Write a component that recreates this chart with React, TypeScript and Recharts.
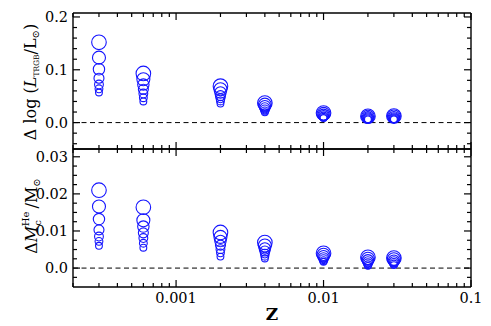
import React from "react";
import { ScatterChart, Scatter, XAxis, YAxis, ReferenceLine } from "recharts";

// metallicities of the model grids
const zValues = [0.0003, 0.0006, 0.002, 0.004, 0.01, 0.02, 0.03];

// ring radius per mass step (largest first)
const radii = [7.3, 6.5, 5.7, 5.0, 4.4, 3.9, 3.4];

// Δ log(L_TRGB/L_sun), one row per Z
const dLogL = [
  [0.152, 0.123, 0.101, 0.084, 0.072, 0.064, 0.057],
  [0.093, 0.082, 0.072, 0.063, 0.055, 0.047, 0.04],
  [0.069, 0.063, 0.057, 0.051, 0.046, 0.041, 0.036],
  [0.037, 0.034, 0.031, 0.028, 0.025, 0.022, 0.0195],
  [0.0182, 0.0165, 0.0148, 0.0131, 0.0115, 0.01, 0.0087],
  [0.012, 0.011, 0.01, 0.009, 0.008, 0.007, 0.006],
  [0.0125, 0.0114, 0.0103, 0.0092, 0.0082, 0.0072, 0.0062],
];

// Δ M_c^He / M_sun, one row per Z
const dMcHe = [
  [0.021, 0.0166, 0.0132, 0.0103, 0.0085, 0.0072, 0.006],
  [0.0164, 0.0129, 0.0112, 0.0095, 0.0081, 0.0067, 0.0055],
  [0.0096, 0.0084, 0.0073, 0.0062, 0.0051, 0.0041, 0.0031],
  [0.0069, 0.0061, 0.0053, 0.0046, 0.0039, 0.0032, 0.0026],
  [0.004, 0.0036, 0.0032, 0.0028, 0.0024, 0.002, 0.0017],
  [0.0029, 0.0025, 0.0021, 0.0017, 0.0013, 0.0009, 0.0006],
  [0.0027, 0.0024, 0.002, 0.0017, 0.0014, 0.0011, 0.0008],
];

const xTicks = [
  0.0002, 0.0003, 0.0004, 0.0005, 0.0006, 0.0007, 0.0008, 0.0009, 0.001,
  0.002, 0.003, 0.004, 0.005, 0.006, 0.007, 0.008, 0.009, 0.01,
  0.02, 0.03, 0.04, 0.05, 0.06, 0.07, 0.08, 0.09, 0.1,
];
const xMajor = [0.001, 0.01, 0.1];
const xLabels: Record<string, string> = { "0.001": "0.001", "0.01": "0.01", "0.1": "0.1" };

const topTicks = [-0.04, -0.02, 0, 0.02, 0.04, 0.06, 0.08, 0.1, 0.12, 0.14, 0.16, 0.18, 0.2];
const topMajor = [0, 0.1, 0.2];
const topLabels: Record<string, string> = { "0": "0.0", "0.1": "0.1", "0.2": "0.2" };

const botTicks = [
  -0.0025, 0, 0.0025, 0.005, 0.0075, 0.01, 0.0125, 0.015, 0.0175, 0.02, 0.0225,
  0.025, 0.0275, 0.03,
];
const botMajor = [0, 0.01, 0.02, 0.03];
const botLabels: Record<string, string> = { "0": "0.0", "0.01": "0.01", "0.02": "0.02", "0.03": "0.03" };

const W = 491;
const H = 326;
const LEFT = 73;
const RIGHT = 471;
const TOP = 13;
const MID = 149;
const BOTTOM = 287;

const FONT = "DejaVu Serif";
const BLUE = "#1414ff";

const toPoints = (rows: number[][]) =>
  rows.flatMap((row, i) => row.map((v, k) => ({ z: zValues[i], v, k })));

const topData = toPoints(dLogL);
const botData = toPoints(dMcHe);

const Ring = (props: any) => {
  const { cx, cy, payload } = props;
  return <circle cx={cx} cy={cy} r={radii[payload.k]} fill="none" stroke={BLUE} strokeWidth={1.1} />;
};

const isMajor = (list: number[], v: number) => list.some((m) => Math.abs(m - v) < 1e-9);

const makeTick =
  (side: "bottom" | "top" | "left" | "right", majors: number[], labels?: Record<string, string>) =>
  (props: any) => {
    const { x, y, payload } = props;
    const v = payload.value;
    const major = isMajor(majors, v);
    const len = major ? 7 : 4;
    const label = labels && major ? labels[String(v)] : undefined;
    if (side === "bottom") {
      return (
        <g>
          <line x1={x} y1={y} x2={x} y2={y - len} stroke="#000" strokeWidth={1.2} />
          {label && (
            <text x={x} y={y + 16} textAnchor="middle" fontFamily={FONT} fontSize={14.5} fill="#000">
              {label}
            </text>
          )}
        </g>
      );
    }
    if (side === "top") {
      return <line x1={x} y1={y} x2={x} y2={y + len} stroke="#000" strokeWidth={1.2} />;
    }
    if (side === "left") {
      return (
        <g>
          <line x1={x} y1={y} x2={x + len} y2={y} stroke="#000" strokeWidth={1.2} />
          {label && (
            <text x={x - 5} y={y + 5} textAnchor="end" fontFamily={FONT} fontSize={14.5} fill="#000">
              {label}
            </text>
          )}
        </g>
      );
    }
    return <line x1={x} y1={y} x2={x - len} y2={y} stroke="#000" strokeWidth={1.2} />;
  };

const axisLine = { stroke: "#000", strokeWidth: 1.4 };

const TopYLabel = () => (
  <text
    x={36}
    y={82}
    transform="rotate(-90, 36, 82)"
    textAnchor="middle"
    fontFamily={FONT}
    fontSize={16}
    fill="#000"
  >
    Δ log (<tspan fontStyle="italic">L</tspan>
    <tspan fontSize={7.5} dy={3}>TRGB</tspan>
    <tspan dy={-3}>/L</tspan>
    <tspan fontSize={10} dy={3}>⊙</tspan>
    <tspan dy={-3}>)</tspan>
  </text>
);

const BotYLabel = () => (
  <text
    x={37}
    y={216}
    transform="rotate(-90, 37, 216)"
    textAnchor="middle"
    fontFamily={FONT}
    fontSize={16}
    fill="#000"
  >
    Δ<tspan fontStyle="italic">M</tspan>
    <tspan fontSize={10} dy={4}>c</tspan>
    <tspan fontSize={10} dx={-6} dy={-12}>He</tspan>
    <tspan dx={3} dy={8}>/M</tspan>
    <tspan fontSize={10} dy={3}>⊙</tspan>
  </text>
);

const XLabel = () => (
  <text x={272} y={320} textAnchor="middle" fontFamily={FONT} fontSize={17} fontWeight="bold" fill="#000">
    Z
  </text>
);

function Panel({
  data,
  domain,
  ticks,
  majors,
  labels,
  top,
  bottom,
  showX,
  YLabel,
}: {
  data: { z: number; v: number; k: number }[];
  domain: [number, number];
  ticks: number[];
  majors: number[];
  labels: Record<string, string>;
  top: number;
  bottom: number;
  showX: boolean;
  YLabel: () => React.ReactElement;
}) {
  // axes are 1px wide/tall so their lines sit exactly on the plot frame
  return (
    <div style={{ position: "absolute", left: 0, top: 0 }}>
      <ScatterChart
        width={W}
        height={H}
        margin={{ top: top - 1, left: LEFT - 1, right: W - RIGHT - 1, bottom: H - bottom - 1 }}
      >
        <XAxis
          xAxisId="b"
          dataKey="z"
          type="number"
          scale="log"
          domain={[0.0002, 0.1]}
          allowDataOverflow
          ticks={xTicks}
          interval={0}
          height={1}
          tickSize={0}
          tickMargin={0}
          axisLine={axisLine}
          tickLine={false}
          tick={makeTick("bottom", xMajor, showX ? xLabels : undefined)}
          label={showX ? { content: () => <XLabel /> } : undefined}
        />
        <XAxis
          xAxisId="t"
          orientation="top"
          dataKey="z"
          type="number"
          scale="log"
          domain={[0.0002, 0.1]}
          allowDataOverflow
          ticks={xTicks}
          interval={0}
          height={1}
          tickSize={0}
          tickMargin={0}
          axisLine={axisLine}
          tickLine={false}
          tick={makeTick("top", xMajor)}
        />
        <YAxis
          yAxisId="l"
          dataKey="v"
          type="number"
          domain={domain}
          allowDataOverflow
          ticks={ticks}
          interval={0}
          width={1}
          tickSize={0}
          tickMargin={0}
          axisLine={axisLine}
          tickLine={false}
          tick={makeTick("left", majors, labels)}
          label={{ content: () => <YLabel /> }}
        />
        <YAxis
          yAxisId="r"
          orientation="right"
          dataKey="v"
          type="number"
          domain={domain}
          allowDataOverflow
          ticks={ticks}
          interval={0}
          width={1}
          tickSize={0}
          tickMargin={0}
          axisLine={axisLine}
          tickLine={false}
          tick={makeTick("right", majors)}
        />
        <ReferenceLine
          xAxisId="b"
          yAxisId="l"
          y={0}
          stroke="#000"
          strokeWidth={1}
          strokeDasharray="5 3.5"
        />
        <Scatter
          xAxisId="b"
          yAxisId="l"
          data={data}
          shape={Ring}
          isAnimationActive={false}
        />
      </ScatterChart>
    </div>
  );
}

export default function App() {
  return (
    <div
      style={{
        position: "absolute",
        left: 0,
        top: 0,
        width: W,
        height: H,
        background: "#fff",
      }}
    >
      <Panel
        data={topData}
        domain={[-0.05, 0.2075]}
        ticks={topTicks}
        majors={topMajor}
        labels={topLabels}
        top={TOP}
        bottom={MID}
        showX={false}
        YLabel={TopYLabel}
      />
      <Panel
        data={botData}
        domain={[-0.0051, 0.0321]}
        ticks={botTicks}
        majors={botMajor}
        labels={botLabels}
        top={MID}
        bottom={BOTTOM}
        showX={true}
        YLabel={BotYLabel}
      />
    </div>
  );
}
